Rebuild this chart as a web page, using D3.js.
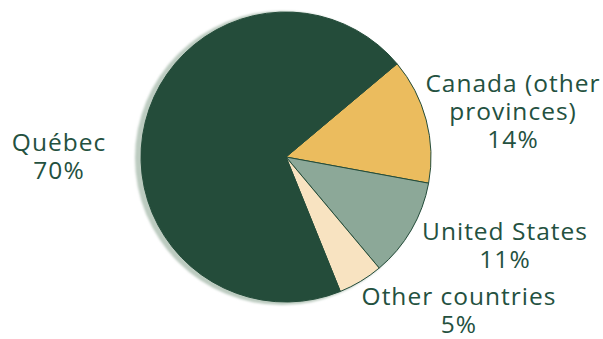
<!DOCTYPE html>
<html><head><meta charset="utf-8">
<script src="https://cdn.jsdelivr.net/npm/d3@7"></script>
<style>body{margin:0;background:#fff;}svg{display:block;}</style>
</head><body>
<svg id="c" width="603" height="339"></svg>
<script>
const categories = ["Canada (other provinces)", "United States", "Other countries", "Québec"];
const values = [14, 11, 5, 70];
const labelLines = [["Canada (other", "provinces)", "14%"], ["United States", "11%"], ["Other countries", "5%"], ["Québec", "70%"]];
const colors = ["#ebbc5e", "#8ca898", "#f8e3c1", "#244c3a"];
const labelPos = [[513, 92], [505, 240], [459, 305], [59, 151]];

const svg = d3.select("#c");
const cx = 286, cy = 157, r = 145;
const defs = svg.append("defs");
defs.append("filter").attr("id", "blur").append("feGaussianBlur").attr("stdDeviation", 0.8);
svg.append("circle").attr("cx", cx - 4).attr("cy", cy + 1).attr("r", r + 2)
  .attr("fill", "#bccbc0").attr("filter", "url(#blur)");

const pie = d3.pie().sort(null).value(d => d)
  .startAngle(50 * Math.PI / 180).endAngle(50 * Math.PI / 180 + 2 * Math.PI);
const arc = d3.arc().innerRadius(0).outerRadius(r);
const g = svg.append("g").attr("transform", `translate(${cx},${cy})`);
g.selectAll("path").data(pie(values)).join("path")
  .attr("d", arc).attr("fill", (d, i) => colors[i])
  .attr("stroke", "#244c3a").attr("stroke-width", 1).attr("stroke-linejoin", "round");

const lh = 28;
labelLines.forEach((lines, i) => {
  const t = svg.append("text").attr("text-anchor", "middle")
    .attr("font-family", "'Open Sans', sans-serif").attr("font-size", 24.5)
    .attr("fill", "#24513f").attr("letter-spacing", 1);
  lines.forEach((s, j) => {
    t.append("tspan").attr("x", labelPos[i][0]).attr("y", labelPos[i][1] + j * lh).text(s);
  });
});
</script>
</body></html>
